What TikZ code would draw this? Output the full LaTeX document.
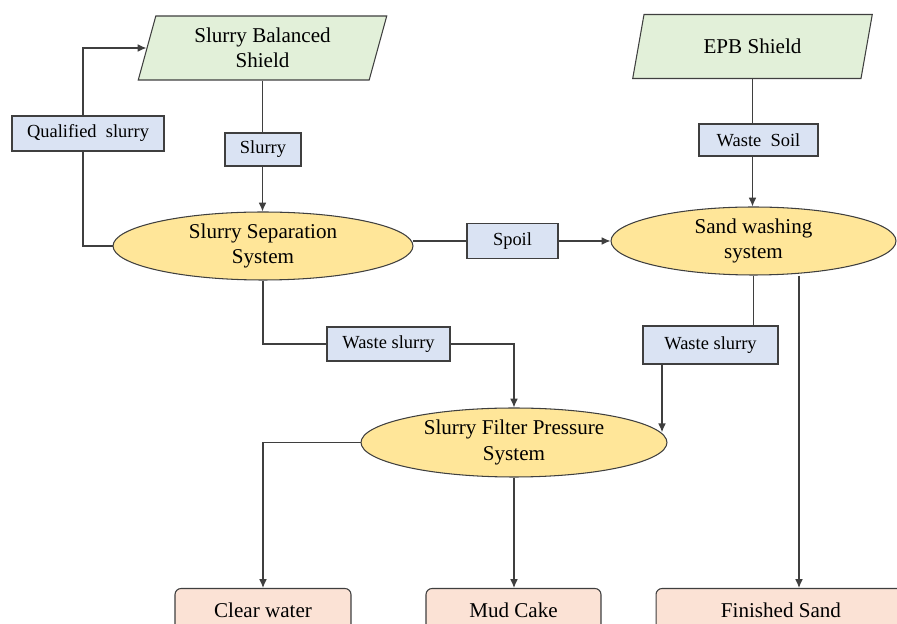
\documentclass[tikz,border=0pt]{standalone}
\usepackage{fontspec}
\setmainfont{Liberation Serif}
\usetikzlibrary{shapes.geometric}
\usetikzlibrary{positioning}
\usetikzlibrary{calc}
\usetikzlibrary{arrows.meta}
\usetikzlibrary{backgrounds}

\definecolor{shieldgreen}{HTML}{E2F0D9}
\definecolor{flowblue}{HTML}{DAE3F3}
\definecolor{sysyellow}{HTML}{FFE699}
\definecolor{outpeach}{HTML}{FBE2D5}
\definecolor{edgegray}{HTML}{3F3F3F}

\begin{document}
\begin{tikzpicture}[
    x=0.02cm, y=-0.02cm,
    >={Latex[length=5pt,width=4.4pt]},
    every node/.style={font=\fontsize{12}{14.5}\selectfont, draw=edgegray, line width=0.6pt},
    shield/.style={trapezium, trapezium left angle=76, trapezium right angle=104, trapezium stretches=true, fill=shieldgreen, minimum height=1.28cm, align=center, inner sep=2pt},
    flow/.style={rectangle, fill=flowblue, font=\fontsize{10.5}{12.5}\selectfont, inner sep=0pt},
    system/.style={ellipse, fill=sysyellow, inner sep=0pt, align=center},
    product/.style={rectangle, rounded corners=0.12cm, fill=outpeach, anchor=north, inner xsep=0pt, inner ysep=0.28cm, text height=8.4pt, text depth=1cm},
    link/.style={draw=edgegray, line width=0.7pt}
]
\useasboundingbox (0,0) rectangle (897,624);
\clip (0,0) rectangle (897,624);
\node[shield, minimum width=4.98cm] (sbs) at (262.5,48) {Slurry Balanced\\Shield};
\node[shield, minimum width=4.82cm] (epb) at (752.5,46.5) {EPB Shield};
\node[flow, minimum width=3.04cm, minimum height=0.7cm] (qual) at (88,133.5) {Qualified\ \ slurry};
\node[flow, minimum width=1.52cm, minimum height=0.66cm] (slurry) at (263,149.5) {Slurry};
\node[system, minimum width=6cm, minimum height=1.36cm] (sep) at (263,246) {Slurry Separation\\System};
\node[flow, minimum width=1.82cm, minimum height=0.7cm] (spoil) at (512.5,241) {Spoil};
\node[flow, minimum width=2.38cm, minimum height=0.64cm] (wsoil) at (758.5,140) {Waste\ \ Soil};
\node[system, minimum width=5.7cm, minimum height=1.36cm] (wash) at (753.5,241) {Sand washing\\system};
\node[flow, minimum width=2.46cm, minimum height=0.68cm] (wsl1) at (388.5,344) {Waste slurry};
\node[flow, minimum width=2.7cm, minimum height=0.76cm] (wsl2) at (710.5,345) {Waste slurry};
\node[system, minimum width=6.12cm, minimum height=1.38cm] (filter) at (514,442.5) {Slurry Filter Pressure\\System};
\node[product, minimum width=3.52cm] (clear) at (263,588) {Clear water};
\node[product, minimum width=3.5cm] (mud) at (513.5,588) {Mud Cake};
\node[product, minimum width=5cm] (fsand) at (781,588) {Finished Sand};
\begin{scope}[on background layer]
\draw[link, ->] (sep.west) -| ([xshift=-0.1cm]qual.center) |- (sbs);
\draw[link, ->] (sbs.south) -- (sbs.south |- sep.north);
\draw[link, ->] (epb.south) -- (epb.south |- wash.north);
\draw[link, ->] (wash.west -| sep.east) -- (wash.west);
\draw[link, ->] (sep.south) |- (wsl1) -| (filter.north);
\draw[link] (wash.south) -- (wash.south |- wsl2.north);
\coordinate (wsout) at ([xshift=-0.97cm]wsl2.south);
\draw[link, ->] (wsout) -- (wsout |- filter.4);
\draw[link, ->] ([xshift=0.91cm]wash.south) -- ([xshift=0.91cm]wash.south |- fsand.north);
\draw[link, ->] (filter.west) -| (clear.north);
\draw[link, ->] (filter.south) -- (filter.south |- mud.north);
\end{scope}
\end{tikzpicture}
\end{document}
